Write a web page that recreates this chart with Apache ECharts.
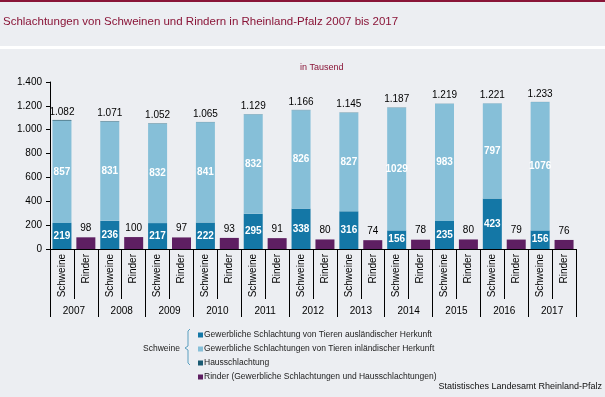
<!DOCTYPE html>
<html><head><meta charset="utf-8">
<script src="https://cdn.jsdelivr.net/npm/echarts@6/dist/echarts.min.js"></script>
<style>html,body{margin:0;padding:0;background:#eceef2;}#c{width:605px;height:397px;}</style>
</head><body><div id="c"></div>
<script>
const years = ['2007','2008','2009','2010','2011','2012','2013','2014','2015','2016','2017'];
const kinds = ['Schweine','Rinder'];
const auslaendisch = [219,236,217,222,295,338,316,156,235,423,156];
const inlaendisch = [857,831,832,841,832,826,827,1029,983,797,1076];
const haus = [6,4,3,2,2,2,2,2,1,1,1];
const schweineTotal = [1082,1071,1052,1065,1129,1166,1145,1187,1219,1221,1233];
const rinder = [98,100,97,93,91,80,74,78,80,79,76];
const yTicks = [0,200,400,600,800,1000,1200,1400];

const names = [
  'Gewerbliche Schlachtung von Tieren ausländischer Herkunft',
  'Gewerbliche Schlachtungen von Tieren inländischer Herkunft',
  'Hausschlachtung',
  'Rinder (Gewerbliche Schlachtungen und Hausschlachtungen)'
];
const colors = ['#1477a6','#86bfd8','#1b5a72','#5e1f62'];

const cats = [];
years.forEach(() => kinds.forEach(k => cats.push(k)));
function sw(arr){ const o=[]; arr.forEach(v=>{o.push(v);o.push('-');}); return o; }
function rd(arr){ const o=[]; arr.forEach(v=>{o.push('-');o.push(v);}); return o; }
function de(v){ return String(v).replace(/\B(?=(\d{3})+(?!\d))/g,'.'); }
const FONT = 'Liberation Sans, Arial, sans-serif';

const chart = echarts.init(document.getElementById('c'), null, {renderer:'canvas'});
chart.setOption({
  backgroundColor:'#eceef2',
  animation:false,
  textStyle:{fontFamily:FONT},
  grid:{left:50,right:29,top:82,bottom:148,containLabel:false},
  graphic:[
    {type:'rect',left:0,top:0,shape:{width:605,height:2},style:{fill:'#8a1538'}},
    {type:'rect',left:0,top:46,shape:{width:605,height:3},style:{fill:'#ffffff'}},
    {type:'text',left:3,top:16,style:{text:'Schlachtungen von Schweinen und Rindern in Rheinland-Pfalz 2007 bis 2017',fill:'#8a1538',font:'11.5px '+FONT}},
    {type:'text',left:300,top:63,style:{text:'in Tausend',fill:'#8a1538',font:'9px '+FONT}},
    {type:'text',left:143,top:344,style:{text:'Schweine',fill:'#222',font:'8.5px '+FONT}},
    {type:'polyline',shape:{points:[[190,329],[188,331],[188,346],[185,348],[188,350],[188,363],[190,365]]},style:{stroke:'#5a9fc0',lineWidth:1,fill:null}},
    {type:'text',right:3,top:382,style:{text:'Statistisches Landesamt Rheinland-Pfalz',fill:'#111',font:'9px '+FONT,align:'right'}}
  ],
  legend:{
    orient:'vertical',left:193,top:325,itemWidth:5,itemHeight:5,itemGap:4,
    icon:'rect',data:names,selectedMode:false,
    textStyle:{fontSize:8.5,color:'#222',padding:[0,0,0,-4],lineHeight:10}
  },
  xAxis:[
    {type:'category',data:cats,
     axisLine:{lineStyle:{color:'#000',width:1}},
     axisTick:{show:true,interval:0,length:50,lineStyle:{color:'#000'}},
     axisLabel:{interval:0,rotate:90,fontSize:10,color:'#000',margin:5}},
    {type:'category',data:years,position:'bottom',
     axisLine:{show:false},
     axisTick:{show:true,interval:0,length:68,lineStyle:{color:'#000'}},
     axisLabel:{interval:0,fontSize:10,color:'#000',margin:57}}
  ],
  yAxis:{type:'value',min:yTicks[0],max:yTicks[yTicks.length-1],interval:200,
    splitLine:{show:false},
    axisLine:{show:true,lineStyle:{color:'#000'}},
    axisTick:{show:true,length:4,lineStyle:{color:'#000'}},
    axisLabel:{fontSize:10,color:'#000',margin:8,formatter:v=>de(v)}},
  series:[
    {name:names[0],type:'bar',stack:'s',xAxisIndex:0,barWidth:19,data:sw(auslaendisch),
     itemStyle:{color:colors[0]},
     label:{show:true,position:'inside',color:'#fff',fontSize:10,fontWeight:'bold'}},
    {name:names[1],type:'bar',stack:'s',xAxisIndex:0,barWidth:19,data:sw(inlaendisch),
     itemStyle:{color:colors[1]},
     label:{show:true,position:'inside',color:'#fff',fontSize:10,fontWeight:'bold'}},
    {name:names[2],type:'bar',stack:'s',xAxisIndex:0,barWidth:19,data:sw(haus),
     itemStyle:{color:colors[2]},
     label:{show:true,position:'top',distance:3,color:'#000',fontSize:10,
       formatter:p=>de(schweineTotal[Math.floor(p.dataIndex/2)])}},
    {name:names[3],type:'bar',stack:'s',xAxisIndex:0,barWidth:19,data:rd(rinder),
     itemStyle:{color:colors[3]},
     label:{show:true,position:'top',distance:4,color:'#000',fontSize:10}}
  ]
});
</script></body></html>
